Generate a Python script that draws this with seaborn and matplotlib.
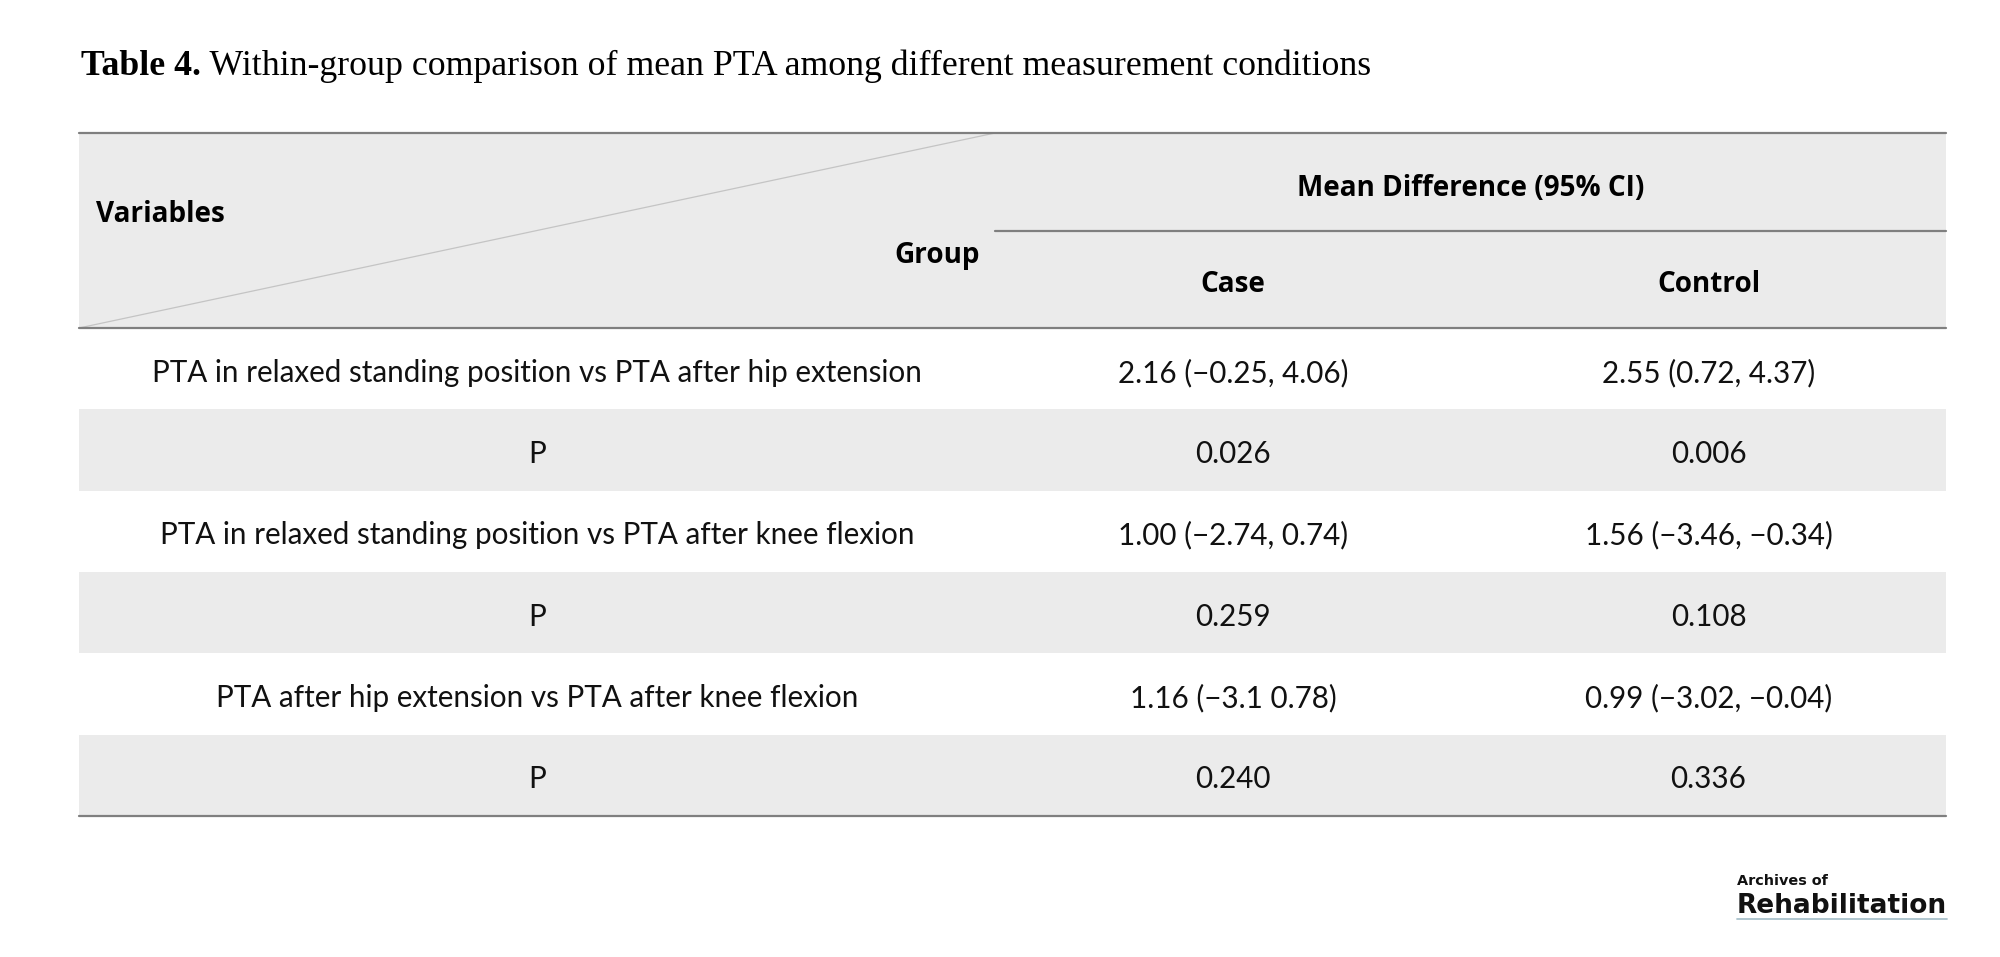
import matplotlib
matplotlib.use("Agg")
import matplotlib.pyplot as plt
import seaborn as sns
import pandas as pd

# ---------------- data ----------------
title_bold = "Table 4."
title_rest = " Within-group comparison of mean PTA among different measurement conditions"
header_variables = "Variables"
header_group = "Group"
header_span = "Mean Difference (95% CI)"
groups = ["Case", "Control"]
comparisons = [
    "PTA in relaxed standing position vs PTA after hip extension",
    "PTA in relaxed standing position vs PTA after knee flexion",
    "PTA after hip extension vs PTA after knee flexion",
]
case_md = ["2.16 (\u22120.25, 4.06)", "1.00 (\u22122.74, 0.74)", "1.16 (\u22123.1 0.78)"]
control_md = ["2.55 (0.72, 4.37)", "1.56 (\u22123.46, \u22120.34)", "0.99 (\u22123.02, \u22120.04)"]
case_p = ["0.026", "0.259", "0.240"]
control_p = ["0.006", "0.108", "0.336"]
p_label = "P"
logo_top = "Archives of"
logo_main = "Rehabilitation"

rows = []
for i in range(len(comparisons)):
    rows.append(dict(label=comparisons[i], case=case_md[i], control=control_md[i], shaded=False))
    rows.append(dict(label=p_label, case=case_p[i], control=control_p[i], shaded=True))
table = pd.DataFrame(rows)

# ---------------- style ----------------
sns.set_theme(style="white")
BODY = ["Lato", "DejaVu Sans"]
HEAD = ["Open Sans", "DejaVu Sans"]
SERIF = ["Liberation Serif", "DejaVu Serif"]
plt.rcParams["font.family"] = BODY

W, H, DPI = 2000, 957, 100
fig = plt.figure(figsize=(W / DPI, H / DPI), dpi=DPI)
ax = fig.add_axes([0, 0, 1, 1])
ax.set_xlim(0, W)
ax.set_ylim(H, 0)
ax.axis("off")

GRAY = "#ebebeb"
RULE = "#7f7f7f"
TXT = "#111111"

col_edges = [79, 995, 1471, 1946]
top, mid, hdr_bot = 133, 231, 328
row_h = (816 - hdr_bot) / len(table)
L, R = col_edges[0], col_edges[-1]
TEXT_DY = 4

renderer = fig.canvas.get_renderer()


def fit(texts, target):
    for _ in range(3):
        w = sum(t.get_window_extent(renderer).width for t in texts)
        for t in texts:
            t.set_fontsize(t.get_fontsize() * target / w)


# header background
ax.add_patch(plt.Rectangle((L, top), R - L, hdr_bot - top, color=GRAY, lw=0, zorder=0))
# body bands
for i, r in table.iterrows():
    if r["shaded"]:
        y0 = hdr_bot + i * row_h
        ax.add_patch(plt.Rectangle((L, y0), R - L, row_h, color=GRAY, lw=0, zorder=0))

# diagonal
ax.plot([L, col_edges[1]], [hdr_bot, top], color="#c4c4c4", lw=0.9, zorder=1)
# rules
ax.plot([L, R], [top, top], color=RULE, lw=1.6, zorder=2)
ax.plot([col_edges[1], R], [mid, mid], color=RULE, lw=1.6, zorder=2)
ax.plot([L, R], [hdr_bot, hdr_bot], color=RULE, lw=1.6, zorder=2)
bottom = hdr_bot + row_h * len(table)
ax.plot([L, R], [bottom, bottom], color=RULE, lw=1.6, zorder=2)

# title
tb = ax.text(81, 75, title_bold, family=SERIF, weight="bold", fontsize=26, va="baseline", ha="left", color="black")
tr = ax.text(0, 75, title_rest, family=SERIF, fontsize=26, va="baseline", ha="left", color="black")
fit([tb, tr], 1287)
tr.set_x(81 + tb.get_window_extent(renderer).width)

# header text
hv = ax.text(96, 212 + 3, header_variables, family=HEAD, weight="bold", fontsize=20, va="center", ha="left", color="black")
hs = ax.text((col_edges[1] + R) / 2, 185 + TEXT_DY, header_span, family=HEAD, weight="bold", fontsize=20, va="center", ha="center", color="black")
fit([hs], 347)
hsize = hs.get_fontsize()
hv.set_fontsize(hsize)
ax.text(980, 253 + 3, header_group, family=HEAD, weight="bold", fontsize=hsize, va="center", ha="right", color="black")
for g, (a, b) in zip(groups, [(col_edges[1], col_edges[2]), (col_edges[2], col_edges[3])]):
    ax.text((a + b) / 2, 282 + 2, g, family=HEAD, weight="bold", fontsize=hsize, va="center", ha="center", color="black")

# body text
probe = ax.text(0, -100, comparisons[0], family=BODY, fontsize=20)
fit([probe], 770)
bsize = probe.get_fontsize()
probe.remove()
centers = [(col_edges[k] + col_edges[k + 1]) / 2 for k in range(3)]
for i, r in table.iterrows():
    yc = hdr_bot + (i + 0.5) * row_h + TEXT_DY
    for k, key in enumerate(["label", "case", "control"]):
        ax.text(centers[k], yc, r[key], family=BODY, fontsize=bsize, va="center", ha="center", color=TXT)

# logo
lm = ax.text(1737, 913, logo_main, family=["DejaVu Sans"], weight="bold", fontsize=20, va="baseline", ha="left", color="#111111")
fit([lm], 210)
lt = ax.text(1737, 885, logo_top, family=["DejaVu Sans"], weight="bold", fontsize=12, va="baseline", ha="left", color="#111111")
fit([lt], 91)
ax.plot([1737, 1947], [919, 919], color="#a9c1cc", lw=1.3)

fig.savefig("out.png", dpi=DPI, facecolor="white")
